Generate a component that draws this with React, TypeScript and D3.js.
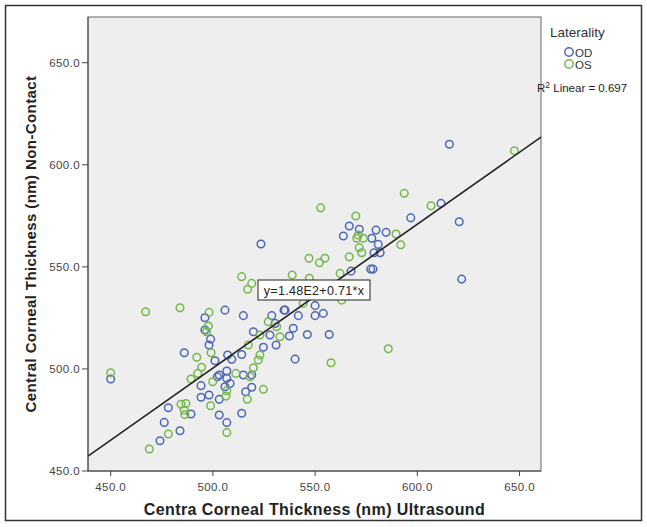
import React from 'react';
import * as d3 from 'd3';

// Ultrasound CCT (x) vs Non-Contact CCT (y), by eye
const odPoints: [number, number][] = [
  [505.9, 528.8], [514.9, 526.1], [496.1, 525.1], [496.1, 519.1], [498.9, 514.6],
  [498.1, 511.7], [519.8, 518.2], [528.8, 526.1], [534.8, 528.8], [527.9, 516.6],
  [537.4, 516.1], [539.3, 519.9], [524.7, 510.6], [530.9, 511.7], [514.1, 507.1],
  [540.2, 504.8], [486.0, 507.9], [501.0, 504.0], [507.2, 506.8], [509.2, 504.7],
  [503.1, 497.0], [506.8, 499.0], [514.9, 497.0], [506.8, 495.4], [508.4, 492.9],
  [505.9, 491.3], [519.0, 491.0], [516.0, 488.8], [494.2, 491.8], [494.2, 486.1],
  [498.1, 487.2], [503.1, 485.1], [489.3, 477.9], [478.2, 481.0], [476.2, 473.8],
  [483.9, 469.7], [474.1, 464.8], [503.1, 477.4], [506.8, 473.7], [514.1, 478.3],
  [450.0, 495.1], [615.7, 610.1], [611.6, 581.1], [596.8, 574.0], [620.5, 572.1],
  [566.7, 570.0], [571.6, 568.4], [563.8, 565.1], [579.8, 568.0], [584.7, 566.9],
  [577.7, 564.0], [580.9, 561.0], [578.8, 556.9], [581.8, 556.9], [577.2, 548.9],
  [578.3, 548.9], [567.6, 547.9], [621.7, 544.0], [550.0, 531.0], [535.3, 528.8],
  [541.8, 526.1], [550.0, 526.1], [554.0, 527.2], [546.2, 516.9], [556.9, 516.9],
  [530.4, 522.3], [502.2, 496.2], [519.0, 497.0], [523.5, 561.2],
];

const osPoints: [number, number][] = [
  [514.1, 545.2], [538.8, 546.0], [519.0, 541.9], [517.0, 539.0], [467.1, 528.0],
  [483.9, 530.0], [498.1, 527.7], [497.8, 521.0], [523.0, 516.6], [527.1, 523.1],
  [517.3, 511.7], [523.0, 506.8], [522.2, 504.4], [499.1, 507.9], [492.1, 505.7],
  [494.5, 500.8], [492.6, 497.8], [489.3, 495.1], [511.2, 497.8], [519.8, 500.6],
  [518.2, 496.2], [499.9, 493.7], [506.8, 489.3], [524.7, 490.0], [506.4, 486.7],
  [498.9, 482.0], [516.8, 485.1], [484.4, 482.7], [486.8, 483.1], [485.9, 479.9],
  [486.3, 477.7], [478.2, 468.1], [468.9, 460.8], [506.8, 468.8], [450.0, 498.1],
  [593.6, 586.0], [552.7, 578.9], [606.7, 579.9], [569.9, 574.9], [571.1, 565.6],
  [570.4, 564.0], [573.6, 564.0], [589.6, 566.1], [591.9, 560.8], [571.6, 559.4],
  [572.8, 556.9], [566.7, 554.9], [547.0, 554.2], [552.1, 552.0], [554.8, 554.2],
  [562.2, 546.8], [547.2, 544.4], [563.0, 533.7], [532.8, 515.8], [585.8, 509.9],
  [557.8, 503.0], [647.5, 606.9], [531.2, 520.7], [496.9, 518.2], [544.2, 532.1],
];

const xTicks = [450, 500, 550, 600, 650];
const yTicks = [450, 500, 550, 600, 650];

const fitIntercept = 147.9;
const fitSlope = 0.705;
const fitLabel = 'y=1.48E2+0.71*x';
const rSquared = '0.697';

const W = 647;
const H = 527;
const plot = { left: 88, right: 541, top: 17, bottom: 471 };

const odColor = '#4d66b6';
const osColor = '#73b84a';
const font = 'Arial, "Liberation Sans", sans-serif';

const App: React.FC = () => {
  const x = d3.scaleLinear().domain([438.9, 660.5]).range([plot.left, plot.right]);
  const y = d3.scaleLinear().domain([450, 672.4]).range([plot.bottom, plot.top]);

  const [x0, x1] = x.domain();
  const fit = d3.line<number>()
    .x(d => x(d))
    .y(d => y(fitIntercept + fitSlope * d));

  const marker = (pts: [number, number][], color: string) =>
    pts.map((p, i) => (
      <circle
        key={i}
        cx={x(p[0])}
        cy={y(p[1])}
        r={3.8}
        fill="none"
        stroke={color}
        strokeWidth={1.5}
      />
    ));

  return (
    <svg
      width={W}
      height={H}
      style={{ position: 'absolute', left: 0, top: 0, background: '#fff' }}
      fontFamily={font}
    >
      <rect x={5.5} y={5.5} width={636} height={515} fill="none" stroke="#333" strokeWidth={1.5} />

      <rect
        x={plot.left}
        y={plot.top}
        width={plot.right - plot.left}
        height={plot.bottom - plot.top}
        fill="#eeeeee"
        stroke="#666"
        strokeWidth={1}
      />

      {marker(odPoints, odColor)}
      {marker(osPoints, osColor)}

      <path d={fit([x0, x1]) || ''} stroke="#222" strokeWidth={1.6} fill="none" />

      <g>
        <rect x={258} y={280} width={112} height={20} fill="#fff" stroke="#222" strokeWidth={1} />
        <text x={314} y={295} textAnchor="middle" fontSize={12.5} letterSpacing={0.3} fill="#222">{fitLabel}</text>
      </g>

      {/* x axis */}
      <line x1={plot.left} x2={plot.right} y1={plot.bottom} y2={plot.bottom} stroke="#444" />
      {xTicks.map(t => (
        <g key={t} transform={`translate(${x(t)},${plot.bottom})`}>
          <line y1={0} y2={5} stroke="#444" />
          <text y={19.5} textAnchor="middle" fontSize={11.5} letterSpacing={0.4} fill="#444">{t.toFixed(1)}</text>
        </g>
      ))}

      {/* y axis */}
      <line x1={plot.left} x2={plot.left} y1={plot.top} y2={plot.bottom} stroke="#444" />
      {yTicks.map(t => (
        <g key={t} transform={`translate(${plot.left},${y(t)})`}>
          <line x1={-6} x2={0} stroke="#444" />
          <text x={-8} dy="0.35em" textAnchor="end" fontSize={11.5} letterSpacing={0.4} fill="#444">{t.toFixed(1)}</text>
        </g>
      ))}

      <text x={(plot.left + plot.right) / 2} y={515} textAnchor="middle" fontSize={16} letterSpacing={0.4} fontWeight="bold" fill="#222">
        Centra Corneal Thickness (nm) Ultrasound
      </text>
      <text
        transform={`translate(36,${(plot.top + plot.bottom) / 2}) rotate(-90)`}
        textAnchor="middle"
        fontSize={15}
        letterSpacing={0.4}
        fontWeight="bold"
        fill="#222"
      >
        Central Corneal Thickness (nm) Non-Contact
      </text>

      {/* legend */}
      <text x={550} y={37} fontSize={13.5} fill="#333">Laterality</text>
      <circle cx={569} cy={52} r={4.2} fill="none" stroke={odColor} strokeWidth={1.5} />
      <text x={575} y={56.5} fontSize={11.5} fill="#333">OD</text>
      <circle cx={569} cy={64} r={4.2} fill="none" stroke={osColor} strokeWidth={1.5} />
      <text x={575} y={68.5} fontSize={11.5} fill="#333">OS</text>
      <text x={537} y={92} fontSize={11.5} fill="#222">
        R<tspan dy={-4} fontSize={8.5}>2</tspan><tspan dy={4}> Linear = {rSquared}</tspan>
      </text>
    </svg>
  );
};

export default App;
